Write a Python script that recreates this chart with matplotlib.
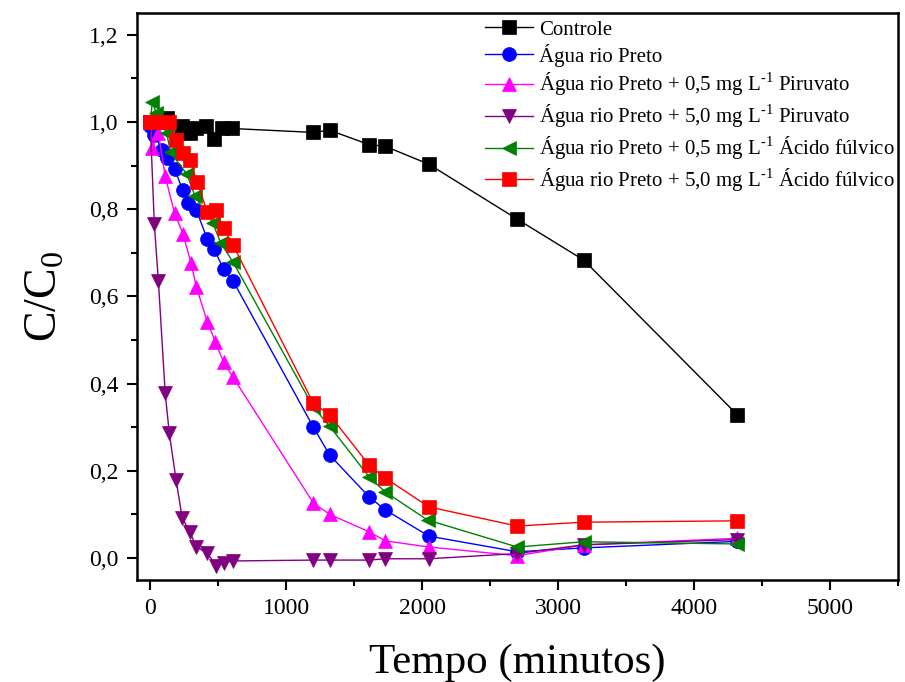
import numpy as np
import matplotlib
matplotlib.use('Agg')
import matplotlib.pyplot as plt
from matplotlib.ticker import MultipleLocator, FuncFormatter

plt.rcParams['font.family'] = ['Liberation Serif', 'DejaVu Serif']
plt.rcParams['mathtext.fontset'] = 'custom'
plt.rcParams['mathtext.rm'] = 'Liberation Serif'

# Controle
t_ctrl = [0, 60, 120, 230, 290, 340, 410, 470, 530, 600,
          1200, 1320, 1610, 1730, 2050, 2700, 3190, 4320]
c_ctrl = [1.0, 1.0, 1.01, 0.99, 0.975, 0.987, 0.99, 0.96, 0.985, 0.985,
          0.976, 0.981, 0.948, 0.944, 0.903, 0.777, 0.683, 0.328]

# Água rio Preto
t_agua = [0, 30, 90, 120, 180, 240, 280, 340, 420, 470, 540, 610,
          1200, 1320, 1610, 1730, 2050, 2700, 3190, 4320]
c_agua = [0.99, 0.97, 0.935, 0.918, 0.891, 0.843, 0.815, 0.797, 0.731, 0.708, 0.662, 0.635,
          0.30, 0.236, 0.14, 0.11, 0.05, 0.014, 0.023, 0.038]

# + 0,5 mg/L Piruvato
t_pir05 = [0, 15, 60, 110, 180, 240, 300, 340, 420, 480, 540, 610,
           1200, 1320, 1610, 1730, 2050, 2700, 3190, 4320]
c_pir05 = [1.0, 0.94, 0.975, 0.875, 0.79, 0.744, 0.676, 0.621, 0.541, 0.495, 0.449, 0.414,
           0.126, 0.10, 0.06, 0.039, 0.025, 0.005, 0.03, 0.045]

# + 5,0 mg/L Piruvato
t_pir50 = [0, 30, 60, 110, 140, 190, 235, 290, 340, 420, 485, 540, 610,
           1200, 1320, 1610, 1730, 2050, 2700, 3190, 4320]
c_pir50 = [1.0, 0.765, 0.635, 0.378, 0.286, 0.179, 0.092, 0.06, 0.025, 0.011, -0.018, -0.011, -0.007,
           -0.005, -0.005, -0.005, -0.002, -0.002, 0.01, 0.03, 0.042]

# + 0,5 mg/L Ácido fúlvico
t_ful05 = [0, 15, 45, 120, 150, 270, 330, 460, 520, 610,
           1200, 1320, 1610, 1730, 2040, 2700, 3190, 4320]
c_ful05 = [1.0, 1.045, 1.02, 0.975, 0.93, 0.88, 0.829, 0.768, 0.722, 0.678,
           0.346, 0.302, 0.186, 0.151, 0.087, 0.025, 0.037, 0.032]

# + 5,0 mg/L Ácido fúlvico
t_ful50 = [0, 30, 70, 140, 190, 240, 290, 345, 420, 485, 540, 610,
           1200, 1320, 1610, 1730, 2050, 2700, 3190, 4320]
c_ful50 = [1.0, 1.0, 1.0, 1.0, 0.958, 0.928, 0.912, 0.862, 0.793, 0.797, 0.756, 0.717,
           0.355, 0.328, 0.213, 0.183, 0.117, 0.073, 0.082, 0.085]

sup = '$^{\\mathregular{\u2010}\\mathregular{1}}$'
labels = ['Controle',
          'Água rio Preto',
          'Água rio Preto + 0,5 mg L' + sup + ' Piruvato',
          'Água rio Preto + 5,0 mg L' + sup + ' Piruvato',
          'Água rio Preto + 0,5 mg L' + sup + ' Ácido fúlvico',
          'Água rio Preto + 5,0 mg L' + sup + ' Ácido fúlvico']

series = [(t_ctrl, c_ctrl, 'black', 's'),
          (t_agua, c_agua, 'blue', 'o'),
          (t_pir05, c_pir05, '#ff00ff', '^'),
          (t_pir50, c_pir50, '#800080', 'v'),
          (t_ful05, c_ful05, '#008000', '<'),
          (t_ful50, c_ful50, 'red', 's')]

fig = plt.figure(figsize=(9.05, 6.82), dpi=100)
ax = fig.add_axes([0.151, 0.150, 0.841, 0.831])

for (t, c, col, mk), lab in zip(series, labels):
    ax.plot(t, c, color=col, marker=mk, markersize=10, markeredgewidth=0.5,
            markeredgecolor=col, linewidth=1.0, label=lab)

ax.set_xlim(-100, 5500)
ax.set_ylim(-0.05, 1.25)
ax.xaxis.set_major_locator(MultipleLocator(1000))
ax.xaxis.set_minor_locator(MultipleLocator(500))
ax.yaxis.set_major_locator(MultipleLocator(0.2))
ax.yaxis.set_minor_locator(MultipleLocator(0.1))
ax.yaxis.set_major_formatter(FuncFormatter(lambda v, p: ('%.1f' % v).replace('.', ',')))
ax.tick_params(which='major', direction='out', length=7, width=1.5, labelsize=17, pad=6)
ax.tick_params(which='minor', direction='out', length=4, width=1.5)
for s in ax.spines.values():
    s.set_linewidth(1.8)

ax.set_xlabel('Tempo (minutos)', fontsize=31, labelpad=18)
ax.set_ylabel('C/C$_\\mathregular{0}$', fontsize=33, labelpad=16)

ax.legend(loc='upper left', bbox_to_anchor=(0.452, 0.995), frameon=False,
          fontsize=15, handlelength=2.3, handletextpad=0.3, labelspacing=0.2,
          borderaxespad=0.0, borderpad=0.2, numpoints=1)

fig.savefig('out.png', dpi=100)
